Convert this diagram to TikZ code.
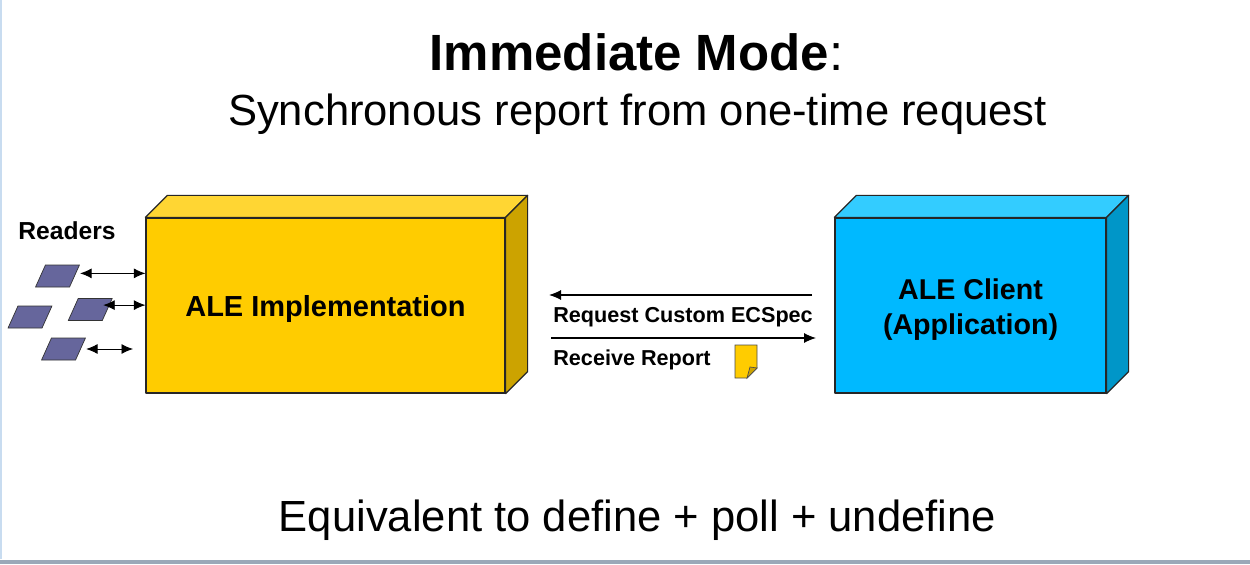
\documentclass[tikz,border=0pt]{standalone}
\usepackage{fontspec}
\setmainfont{Liberation Sans}
\usetikzlibrary{calc}
\usetikzlibrary{arrows.meta}
\usepackage{xcolor}
\definecolor{implfront}{HTML}{FFCC00}
\definecolor{impltop}{HTML}{FFD633}
\definecolor{implside}{HTML}{CCA300}
\definecolor{clientfront}{HTML}{00B9FF}
\definecolor{clienttop}{HTML}{33CCFF}
\definecolor{clientside}{HTML}{0096C8}
\definecolor{readerfill}{HTML}{66669C}
\definecolor{framegray}{HTML}{9AA8B8}
\definecolor{frameblue}{HTML}{C8DCF0}
\tikzset{
  reader/.style={draw=black!80, fill=readerfill, line width=0.4pt, minimum width=0.68cm,
    minimum height=0.44cm, inner sep=0pt, xslant=0.45, transform shape},
  boxface/.style={draw=black!85, line width=0.7pt, line join=round},
  link/.style={<->, >={Latex[length=2.3mm,width=2mm]}, line width=0.5pt},
  msg/.style={->, >={Latex[length=2.4mm,width=2mm]}, line width=0.6pt},
}

\begin{document}
\begin{tikzpicture}
\useasboundingbox (0,0) rectangle (25,11.28);
\fill[white] (0,0) rectangle (25,11.28);
\draw[frameblue, line width=1pt] (0.02,0.1) -- (0.02,11.28);
\fill[framegray] (0,0) rectangle (25,0.08);

% titles
\node (title) at (12.73,10.24) {\fontsize{29}{34}\selectfont\textbf{Immediate Mode}:};
\node (subtitle) at (12.75,9.0) {\fontsize{24.8}{30}\selectfont Synchronous report from one-time request};
\node (note) at (12.75,0.88) {\fontsize{24.8}{30}\selectfont Equivalent to define + poll + undefine};

% ALE implementation box
\node[boxface, fill=implfront, minimum width=7.18cm, minimum height=3.5cm] (impl) at (6.51,5.17) {};
\draw[boxface, fill=impltop] (impl.north west) -- ++(0.44,0.44) -- ($(impl.north east)+(0.44,0.44)$) -- (impl.north east) -- cycle;
\draw[boxface, fill=implside] (impl.north east) -- ++(0.44,0.44) -- ($(impl.south east)+(0.44,0.44)$) -- (impl.south east) -- cycle;
\node[font=\fontsize{16.5}{20}\selectfont\bfseries] at ([yshift=-0.08cm]impl.center) {ALE Implementation};

% ALE client box
\node[boxface, fill=clientfront, minimum width=5.42cm, minimum height=3.5cm] (client) at (19.41,5.17) {};
\draw[boxface, fill=clienttop] (client.north west) -- ++(0.44,0.44) -- ($(client.north east)+(0.44,0.44)$) -- (client.north east) -- cycle;
\draw[boxface, fill=clientside] (client.north east) -- ++(0.44,0.44) -- ($(client.south east)+(0.44,0.44)$) -- (client.south east) -- cycle;
\node[align=center, font=\fontsize{16.3}{20}\selectfont\bfseries] at ([yshift=-0.08cm]client.center) {ALE Client\\(Application)};

% readers
\node[font=\fontsize{14}{16}\selectfont\bfseries] (readers) at (1.34,6.66) {Readers};
\node[reader] (r1) at (1.15,5.76) {};
\node[reader] (r2) at (0.60,4.94) {};
\node[reader] (r3) at (1.805,5.09) {};
\node[reader] (r4) at (1.27,4.30) {};
\coordinate (r4end) at (2.66,4.30);
\draw[link] ([xshift=3pt,yshift=1.5pt]r1.east) -- ([yshift=1.5pt]r1.east -| impl.west);
\draw[link] ([xshift=-2.5pt,yshift=2.5pt]r3.east) -- ([yshift=2.5pt]r3.east -| impl.west);
\draw[link] ([xshift=3pt]r4.east) -- (r4end);

% messages
\node[anchor=west, inner sep=0pt, font=\fontsize{12.3}{15}\selectfont\bfseries] (req) at (11.06,4.93) {Request Custom ECSpec};
\node[anchor=west, inner sep=0pt, font=\fontsize{12.3}{15}\selectfont\bfseries] (recv) at (11.06,4.08) {Receive Report};
\coordinate (reqR) at (16.24,5.38);
\coordinate (reqL) at (10.98,5.38);
\coordinate (recvL) at (11.02,4.52);
\coordinate (recvR) at (16.32,4.52);
\draw[msg] (reqR) -- (reqL);
\draw[msg] (recvL) -- (recvR);

% report sheet
\draw[fill=implfront, draw=black!70, line width=0.4pt] (14.70,4.38) -- (15.14,4.38) -- (15.14,3.92) -- (14.94,3.72) -- (14.70,3.72) -- cycle;
\draw[fill=implside, draw=black!70, line width=0.4pt] (15.14,3.92) -- (14.94,3.72) -- (15.00,3.94) -- cycle;
\end{tikzpicture}
\end{document}
